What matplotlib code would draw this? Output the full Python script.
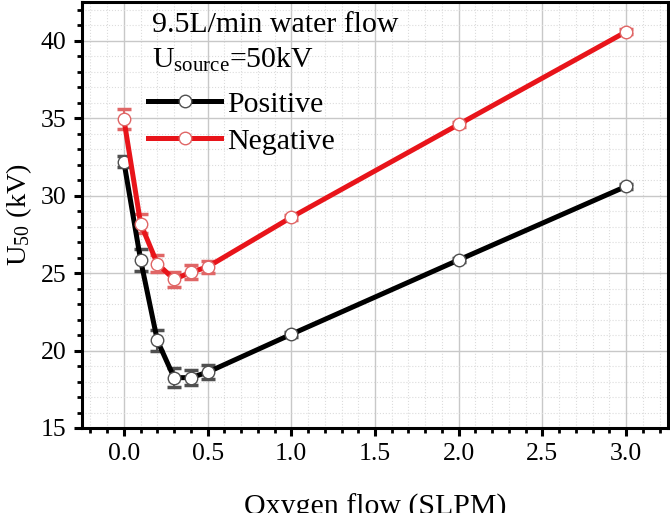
import numpy as np
import matplotlib
matplotlib.use("Agg")
import matplotlib.pyplot as plt
from matplotlib.ticker import MultipleLocator, FormatStrFormatter

plt.rcParams["font.family"] = ["Liberation Serif", "DejaVu Serif"]
plt.rcParams["mathtext.fontset"] = "custom"
plt.rcParams["mathtext.rm"] = "Liberation Serif"
plt.rcParams["mathtext.it"] = "Liberation Serif:italic"

oxygen_flow = [0.0, 0.1, 0.2, 0.3, 0.4, 0.5, 1.0, 2.0, 3.0]
u50_positive = [32.2, 25.85, 20.65, 18.25, 18.25, 18.6, 21.05, 25.85, 30.6]
err_positive = [0.33, 0.7, 0.65, 0.6, 0.5, 0.46, 0.15, 0.15, 0.15]
u50_negative = [34.95, 28.2, 25.6, 24.6, 25.05, 25.4, 28.6, 34.6, 40.58]
err_negative = [0.64, 0.64, 0.54, 0.48, 0.46, 0.4, 0.15, 0.15, 0.15]

fig = plt.figure(figsize=(6.70, 5.13), dpi=100)
ax = fig.add_axes([82 / 670, 1 - 428 / 513, 586 / 670, 426 / 513])

series = [
    (u50_positive, err_positive, "black", "#505050", "#505050", "Positive"),
    (u50_negative, err_negative, "#e8141a", "#e06666", "#e06666", "Negative"),
]
handles = []
for y, err, color, ecolor, medge, label in series:
    ax.errorbar(oxygen_flow, y, yerr=err, fmt="none", ecolor=ecolor,
                elinewidth=1.5, capsize=5, capthick=2.5, zorder=3)
    (line,) = ax.plot(oxygen_flow, y, color=color, lw=3.6, marker="o",
                      ms=9, mfc="white", mec=medge, mew=1.0,
                      label=label, zorder=4)
    handles.append(line)

ax.set_xlim(-0.25, 3.25)
ax.set_ylim(15, 42.5)
ax.xaxis.set_major_locator(MultipleLocator(0.5))
ax.xaxis.set_minor_locator(MultipleLocator(0.1))
ax.xaxis.set_major_formatter(FormatStrFormatter("%.1f"))
ax.yaxis.set_major_locator(MultipleLocator(5))
ax.yaxis.set_minor_locator(MultipleLocator(1))

ax.grid(which="major", color="#c8c8c8", lw=1.0, ls="-", zorder=0)
ax.grid(which="minor", color="#dcdcdc", lw=0.8, ls=":", zorder=0)
ax.set_axisbelow(True)

for s in ax.spines.values():
    s.set_linewidth(2.2)
ax.tick_params(which="major", direction="out", length=6, width=2.2,
               labelsize=18.5, pad=5)
ax.tick_params(which="minor", direction="out", length=3.5, width=2.0)

ax.set_xlabel("Oxygen flow (SLPM)", fontsize=21.5, labelpad=20.5)
ax.set_ylabel("U$_{50}$ (kV)", fontsize=20.5, labelpad=5)

ax.text(0.1195, 0.9296, "9.5L/min water flow", transform=ax.transAxes,
        fontsize=21.5, va="baseline")
ax.text(0.1195, 0.845, "U$_{\\mathrm{source}}$=50kV", transform=ax.transAxes,
        fontsize=21.5, va="baseline")

ax.legend(handles=handles, loc="upper left", bbox_to_anchor=(0.1126, 0.791),
          frameon=False, fontsize=21.5, handlelength=2.45, handletextpad=0.2,
          labelspacing=0.33, borderpad=0, borderaxespad=0)

fig.savefig("out.png", dpi=100)
